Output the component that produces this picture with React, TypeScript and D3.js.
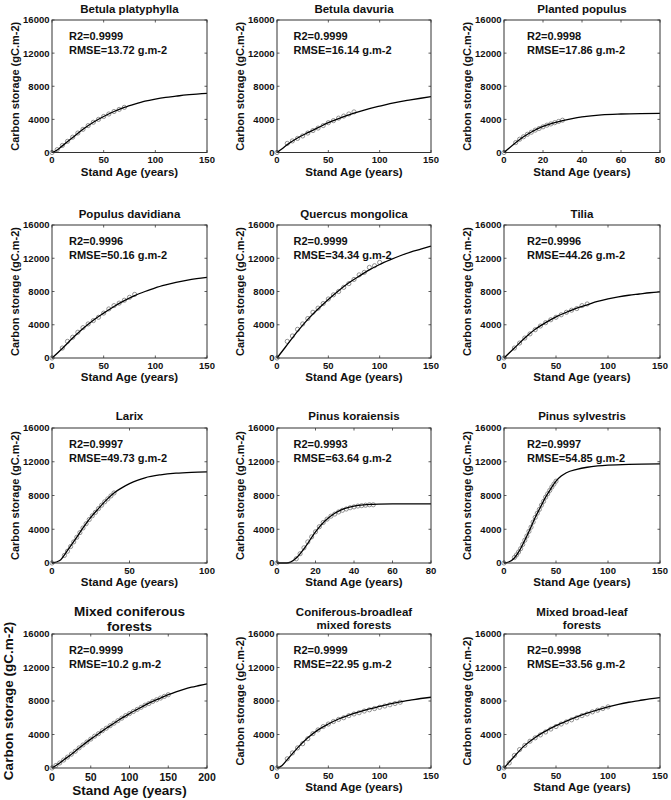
import React from "react";
import * as d3 from "d3";

// ---------- DATA ----------
const panelTitles: string[][] = [
  ["Betula platyphylla"],
  ["Betula davuria"],
  ["Planted populus"],
  ["Populus davidiana"],
  ["Quercus mongolica"],
  ["Tilia"],
  ["Larix"],
  ["Pinus koraiensis"],
  ["Pinus sylvestris"],
  ["Mixed coniferous", "forests"],
  ["Coniferous-broadleaf", "mixed forests"],
  ["Mixed broad-leaf", "forests"],
];
const xMaxima = [150, 150, 80, 150, 150, 150, 100, 80, 150, 200, 150, 150];
const xTicks150 = [0, 50, 100, 150];
const xTicks80 = [0, 20, 40, 60, 80];
const xTicks100 = [0, 50, 100];
const xTicks200 = [0, 50, 100, 150, 200];
const yTicks = [0, 4000, 8000, 12000, 16000];
const r2Labels = ["R2=0.9999", "R2=0.9999", "R2=0.9998", "R2=0.9996", "R2=0.9999", "R2=0.9996", "R2=0.9997", "R2=0.9993", "R2=0.9997", "R2=0.9999", "R2=0.9999", "R2=0.9998"];
const rmseLabels = ["RMSE=13.72 g.m-2", "RMSE=16.14 g.m-2", "RMSE=17.86 g.m-2", "RMSE=50.16 g.m-2", "RMSE=34.34 g.m-2", "RMSE=44.26 g.m-2", "RMSE=49.73 g.m-2", "RMSE=63.64 g.m-2", "RMSE=54.85 g.m-2", "RMSE=10.2 g.m-2", "RMSE=22.95 g.m-2", "RMSE=33.56 g.m-2"];
const xAxisLabel = "Stand Age (years)";
const yAxisLabel = "Carbon storage (gC.m-2)";

// fitted curves [age, carbon]
const betulaPlatyphyllaFit = [[0,0],[5,300],[10,800],[20,1800],[30,2800],[40,3650],[50,4350],[60,4950],[70,5450],[80,5850],[90,6200],[100,6450],[110,6650],[120,6800],[130,6950],[140,7050],[150,7150]];
const betulaPlatyphyllaObs = [[0,0],[5,350],[10,850],[15,1350],[20,1850],[25,2350],[30,2800],[35,3250],[40,3650],[45,4000],[50,4350],[55,4650],[60,4950],[65,5200],[70,5450]];
const betulaDavuriaFit = [[0,0],[5,450],[10,950],[20,1750],[30,2400],[40,3000],[50,3600],[60,4100],[70,4550],[80,4950],[90,5300],[100,5600],[110,5900],[120,6150],[130,6350],[140,6550],[150,6750]];
const betulaDavuriaObs = [[0,0],[10,1100],[15,1400],[20,1700],[25,2000],[30,2350],[35,2650],[40,2950],[45,3250],[50,3600],[55,3850],[60,4150],[65,4400],[70,4650],[75,4900]];
const plantedPopulusFit = [[0,0],[5,1000],[10,1900],[15,2600],[20,3150],[25,3550],[30,3850],[35,4100],[40,4300],[50,4550],[60,4650],[70,4700],[80,4720]];
const plantedPopulusObs = [[0,0],[6,1200],[8,1600],[10,1900],[12,2200],[14,2450],[16,2700],[18,2900],[20,3100],[22,3300],[24,3450],[26,3600],[28,3750],[30,3900]];
const populusDavidianaFit = [[0,0],[10,1150],[20,2400],[30,3550],[40,4550],[50,5400],[60,6200],[70,6900],[80,7500],[90,8000],[100,8450],[110,8800],[120,9100],[130,9350],[140,9550],[150,9700]];
const populusDavidianaObs = [[0,0],[10,1200],[15,2000],[20,2500],[25,3100],[30,3650],[35,4100],[40,4500],[45,4900],[50,5400],[55,5900],[60,6300],[65,6600],[70,6950],[75,7300],[80,7650]];
const quercusMongolicaFit = [[0,0],[10,1600],[20,3200],[30,4650],[40,5900],[50,7050],[60,8100],[70,9050],[80,9850],[90,10600],[100,11250],[110,11800],[120,12300],[130,12750],[140,13100],[150,13450]];
const quercusMongolicaObs = [[0,0],[10,2000],[15,2650],[20,3450],[25,4100],[30,4750],[35,5500],[40,6000],[45,6550],[50,7100],[55,7600],[60,8000],[65,8500],[70,8950],[75,9450],[80,10000],[85,10300],[90,10900],[95,11100],[100,11500]];
const tiliaFit = [[0,0],[10,1200],[20,2400],[30,3450],[40,4250],[50,4950],[60,5500],[70,6000],[80,6400],[90,6800],[100,7100],[110,7350],[120,7550],[130,7700],[140,7850],[150,7950]];
const tiliaObs = [[0,0],[10,1200],[15,1800],[20,2400],[25,2900],[30,3400],[35,3850],[40,4250],[45,4600],[50,4900],[55,5200],[60,5500],[65,5750],[70,5950],[75,6300],[80,6500]];
const larixFit = [[0,0],[5,300],[10,1500],[15,2800],[20,4150],[25,5400],[30,6450],[35,7450],[40,8300],[45,8900],[50,9400],[55,9800],[60,10100],[70,10450],[80,10650],[90,10750],[100,10800]];
const larixObs = [[0,0],[8,900],[10,1400],[12,1950],[14,2500],[16,3050],[18,3600],[20,4150],[22,4650],[24,5150],[26,5600],[28,6000],[30,6450],[32,6850],[34,7250],[36,7600],[38,7950],[40,8300]];
const pinusKoraiensisFit = [[0,0],[5,0],[7,100],[10,600],[15,2000],[20,3700],[25,5000],[30,5900],[35,6450],[40,6750],[45,6900],[50,6950],[60,7000],[70,7000],[80,7000]];
const pinusKoraiensisObs = [[0,0],[10,500],[12,1100],[14,1800],[16,2500],[18,3100],[20,3700],[22,4300],[24,4800],[26,5200],[28,5550],[30,5800],[32,6050],[34,6250],[36,6400],[38,6550],[40,6650],[42,6750],[44,6800],[46,6850],[48,6900],[50,6900]];
const pinusSylvestrisFit = [[0,0],[5,150],[10,600],[15,1500],[20,2700],[25,4000],[30,5400],[35,6600],[40,7800],[45,8800],[50,9700],[55,10300],[60,10700],[70,11100],[80,11350],[90,11500],[100,11600],[120,11700],[150,11750]];
const pinusSylvestrisObs = [[0,0],[10,650],[12,950],[14,1300],[16,1700],[18,2200],[20,2700],[22,3200],[24,3750],[26,4250],[28,4850],[30,5400],[32,5900],[34,6350],[36,6850],[38,7300],[40,7800],[42,8200],[44,8600],[46,9000],[48,9350],[50,9700]];
const mixedConiferousFit = [[0,0],[10,600],[20,1300],[30,2000],[40,2750],[50,3450],[60,4100],[70,4750],[80,5350],[90,5950],[100,6500],[110,7000],[120,7500],[130,7950],[140,8350],[150,8750],[160,9100],[170,9400],[180,9650],[190,9850],[200,10050]];
const mixedConiferousObs = [[0,0],[5,300],[10,600],[15,950],[20,1300],[25,1650],[30,2000],[35,2400],[40,2750],[45,3100],[50,3450],[55,3800],[60,4100],[65,4450],[70,4750],[75,5050],[80,5350],[85,5650],[90,5950],[95,6250],[100,6500],[105,6750],[110,7000],[115,7250],[120,7500],[125,7700],[130,7950],[135,8150],[140,8350],[145,8550],[150,8750]];
const coniferousBroadleafFit = [[0,0],[5,300],[10,1000],[20,2400],[30,3600],[40,4550],[50,5250],[60,5850],[70,6300],[80,6700],[90,7050],[100,7350],[110,7650],[120,7900],[130,8100],[140,8300],[150,8450]];
const coniferousBroadleafObs = [[0,0],[10,1100],[15,1800],[20,2400],[25,2900],[30,3500],[35,4100],[40,4550],[45,4950],[50,5250],[55,5550],[60,5800],[65,6000],[70,6250],[75,6450],[80,6600],[85,6800],[90,6950],[95,7100],[100,7250],[105,7400],[110,7550],[115,7700],[120,7850]];
const mixedBroadleafFit = [[0,0],[5,700],[10,1400],[20,2700],[30,3650],[40,4400],[50,5050],[60,5600],[70,6100],[80,6550],[90,6950],[100,7300],[110,7600],[120,7850],[130,8050],[140,8250],[150,8400]];
const mixedBroadleafObs = [[0,0],[5,600],[10,1500],[15,2200],[20,2700],[25,3200],[30,3600],[35,3950],[40,4300],[45,4650],[50,4950],[55,5250],[60,5500],[65,5750],[70,6000],[75,6250],[80,6450],[85,6700],[90,6900],[95,7100],[100,7300]];

const fits = [betulaPlatyphyllaFit, betulaDavuriaFit, plantedPopulusFit, populusDavidianaFit, quercusMongolicaFit, tiliaFit, larixFit, pinusKoraiensisFit, pinusSylvestrisFit, mixedConiferousFit, coniferousBroadleafFit, mixedBroadleafFit];
const observations = [betulaPlatyphyllaObs, betulaDavuriaObs, plantedPopulusObs, populusDavidianaObs, quercusMongolicaObs, tiliaObs, larixObs, pinusKoraiensisObs, pinusSylvestrisObs, mixedConiferousObs, coniferousBroadleafObs, mixedBroadleafObs];

// ---------- LAYOUT ----------
const colLeft = [52, 277, 504];
const colRight = [207, 431, 660];
const rowTop = [20, 225, 428, 634];
const rowBottom = [152.5, 358, 563, 768];
const titleY = [12.5, 218, 420, 615.5];
const annoDx = [17, 16.5, 23];
const FONT = "'Liberation Sans', Arial, Helvetica, sans-serif";

function ticksFor(max: number) {
  if (max === 80) return xTicks80;
  if (max === 100) return xTicks100;
  if (max === 200) return xTicks200;
  return xTicks150;
}

function Panel({ i }: { i: number }) {
  const col = i % 3;
  const row = Math.floor(i / 3);
  const left = colLeft[col];
  const right = colRight[col];
  const top = rowTop[row];
  const bottom = rowBottom[row];
  const big = i === 9;
  const x = d3.scaleLinear().domain([0, xMaxima[i]]).range([left, right]);
  const y = d3.scaleLinear().domain([0, 16000]).range([bottom, top]);
  const line = d3
    .line<number[]>()
    .x((d) => x(d[0]))
    .y((d) => y(d[1]))
    .curve(d3.curveMonotoneX);
  const xt = ticksFor(xMaxima[i]);
  const tl = 2.5;
  const titleSize = big ? 13.5 : 11.5;
  const titleLines = panelTitles[i];
  const titleLineH = big ? 15.5 : 13;
  const tY0 = titleY[row];
  const midX = (left + right) / 2;
  const midY = (top + bottom) / 2;
  return (
    <g>
      {titleLines.map((t, k) => (
        <text key={k} x={midX} y={tY0 + k * titleLineH} textAnchor="middle" fontSize={titleSize} fontWeight="bold" fontFamily={FONT} fill="#111">
          {t}
        </text>
      ))}
      {observations[i].map((d, k) => (
        <circle key={k} cx={x(d[0])} cy={y(d[1])} r={2.1} fill="none" stroke="#777" strokeWidth={0.8} />
      ))}
      <path d={line(fits[i]) || ""} fill="none" stroke="#000" strokeWidth={1.3} />
      <rect x={left} y={top} width={right - left} height={bottom - top} fill="none" stroke="#333" strokeWidth={1} />
      {xt.map((v) => (
        <g key={"x" + v}>
          <line x1={x(v)} x2={x(v)} y1={bottom} y2={bottom - tl} stroke="#333" strokeWidth={0.8} />
          <line x1={x(v)} x2={x(v)} y1={top} y2={top + tl} stroke="#333" strokeWidth={0.8} />
          <text x={x(v)} y={bottom + (big ? 12.5 : 10.5)} textAnchor="middle" fontSize={big ? 10.5 : 9.5} fontWeight="bold" fontFamily={FONT} fill="#111">
            {v}
          </text>
        </g>
      ))}
      {yTicks.map((v) => (
        <g key={"y" + v}>
          <line x1={left} x2={left + tl} y1={y(v)} y2={y(v)} stroke="#333" strokeWidth={0.8} />
          <line x1={right} x2={right - tl} y1={y(v)} y2={y(v)} stroke="#333" strokeWidth={0.8} />
          <text x={left - 2.5} y={y(v) + 3.4} textAnchor="end" fontSize={9.5} fontWeight="bold" fontFamily={FONT} fill="#111">
            {v}
          </text>
        </g>
      ))}
      <text x={midX} y={bottom + (big ? 27 : 23)} textAnchor="middle" fontSize={big ? 13.5 : 11.5} fontWeight="bold" fontFamily={FONT} fill="#111">
        {xAxisLabel}
      </text>
      <text
        transform={`translate(${left - (big ? 39 : 33)},${midY}) rotate(-90)`}
        textAnchor="middle"
        fontSize={big ? 13.5 : 11}
        fontWeight="bold"
        fontFamily={FONT}
        fill="#111"
      >
        {yAxisLabel}
      </text>
      <text x={left + annoDx[col]} y={top + 19.5} fontSize={11} fontWeight="bold" fontFamily={FONT} fill="#111">
        {r2Labels[i]}
      </text>
      <text x={left + annoDx[col]} y={top + 34} fontSize={11} fontWeight="bold" fontFamily={FONT} fill="#111">
        {rmseLabels[i]}
      </text>
    </g>
  );
}

export default function App() {
  return (
    <svg width={671} height={800} style={{ position: "absolute", left: 0, top: 0, background: "#fff" }}>
      <rect x={0} y={0} width={671} height={800} fill="#fff" />
      {panelTitles.map((_, i) => (
        <Panel key={i} i={i} />
      ))}
    </svg>
  );
}
